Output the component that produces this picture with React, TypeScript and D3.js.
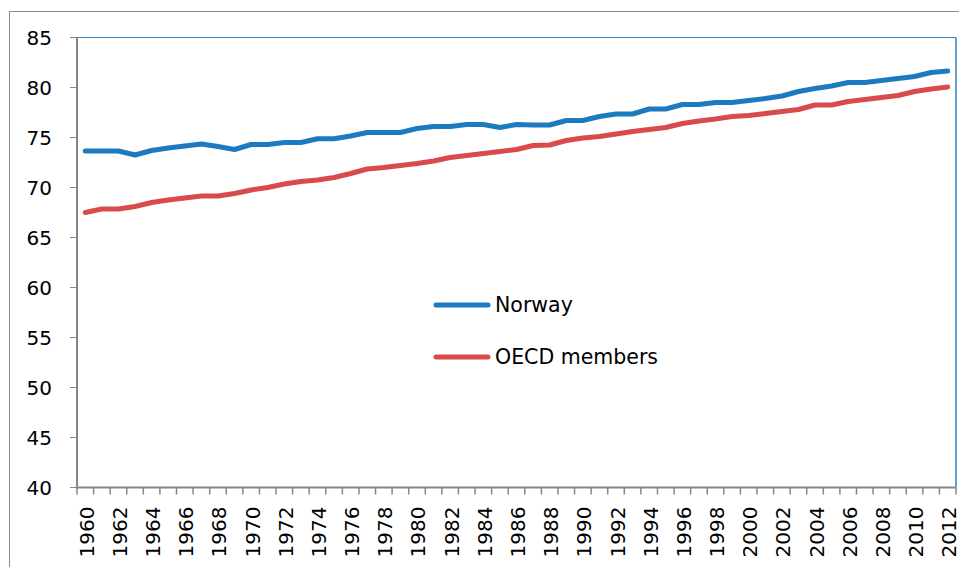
import React from "react";
import * as d3 from "d3";

const years: number[] = [
  1960, 1961, 1962, 1963, 1964, 1965, 1966, 1967, 1968, 1969,
  1970, 1971, 1972, 1973, 1974, 1975, 1976, 1977, 1978, 1979,
  1980, 1981, 1982, 1983, 1984, 1985, 1986, 1987, 1988, 1989,
  1990, 1991, 1992, 1993, 1994, 1995, 1996, 1997, 1998, 1999,
  2000, 2001, 2002, 2003, 2004, 2005, 2006, 2007, 2008, 2009,
  2010, 2011, 2012,
];

const norway: number[] = [
  73.65, 73.65, 73.65, 73.25, 73.7, 73.95, 74.15, 74.35, 74.1, 73.8,
  74.3, 74.3, 74.5, 74.5, 74.88, 74.88, 75.15, 75.5, 75.5, 75.5,
  75.9, 76.1, 76.1, 76.3, 76.3, 76.0, 76.3, 76.25, 76.25, 76.7,
  76.7, 77.1, 77.35, 77.35, 77.85, 77.85, 78.3, 78.3, 78.5, 78.5,
  78.7, 78.9, 79.15, 79.6, 79.9, 80.15, 80.5, 80.5, 80.7, 80.9,
  81.1, 81.5, 81.65,
];

const oecd: number[] = [
  67.5, 67.85, 67.85, 68.1, 68.5, 68.75, 68.95, 69.15, 69.15, 69.4,
  69.75, 70.0, 70.35, 70.6, 70.75, 71.0, 71.4, 71.85, 72.0, 72.2,
  72.4, 72.65, 73.0, 73.2, 73.4, 73.6, 73.8, 74.2, 74.25, 74.7,
  74.95, 75.1, 75.35, 75.6, 75.8, 76.0, 76.4, 76.65, 76.85, 77.1,
  77.2, 77.4, 77.6, 77.8, 78.25, 78.25, 78.6, 78.8, 79.0, 79.2,
  79.6, 79.85, 80.05,
];

const yTicks: number[] = [40, 45, 50, 55, 60, 65, 70, 75, 80, 85];
const xLabelYears: number[] = years.filter((y) => (y - 1960) % 2 === 0);
const seriesNames: string[] = ["Norway", "OECD members"];

const FONT = "'DejaVu Sans', sans-serif";
const BLUE = "#1c7bc0";
const RED = "#d94a4a";
const AXIS = "#868686";

export default function App() {
  const W = 959;
  const H = 567;
  const left = 77;
  const right = 956;
  const top = 37.5;
  const bottom = 487.5;

  const x = d3
    .scaleBand<number>()
    .domain(years)
    .range([left, right])
    .paddingInner(0)
    .paddingOuter(0);
  const y = d3.scaleLinear().domain([40, 85]).range([bottom, top]);
  const cx = (yr: number) => (x(yr) as number) + x.bandwidth() / 2;

  const line = d3
    .line<number>()
    .x((_, i) => cx(years[i]))
    .y((d) => y(d));

  const boundaries = years.map((yr) => x(yr) as number).concat([right]);

  const series = [
    { name: seriesNames[0], values: norway, color: BLUE },
    { name: seriesNames[1], values: oecd, color: RED },
  ];

  return (
    <svg
      width={W}
      height={H}
      style={{ position: "absolute", left: 0, top: 0, background: "#fff" }}
    >
      <rect x={0} y={0} width={W} height={H} fill="#fff" />
      {/* outer chart frame */}
      <rect
        x={9.5}
        y={11.5}
        width={W + 10}
        height={H + 10}
        fill="none"
        stroke="#8a8a8a"
        strokeWidth={1}
      />
      {/* plot area frame (top/right) */}
      <line x1={left} x2={right} y1={top} y2={top} stroke="#2e80c2" strokeWidth={1} />
      <line x1={right} x2={right} y1={top} y2={bottom} stroke="#2e80c2" strokeWidth={1.5} />

      {/* y ticks and labels */}
      {yTicks.map((t) => (
        <g key={"y" + t}>
          <line x1={70} x2={left} y1={y(t)} y2={y(t)} stroke={AXIS} strokeWidth={1} />
          <text
            x={52}
            y={y(t)}
            textAnchor="end"
            dominantBaseline="central"
            fontFamily={FONT}
            fontSize={20}
            fill="#000"
          >
            {t}
          </text>
        </g>
      ))}

      {/* x ticks */}
      {boundaries.map((bx, i) => (
        <line
          key={"xt" + i}
          x1={bx}
          x2={bx}
          y1={bottom}
          y2={bottom + 7}
          stroke={AXIS}
          strokeWidth={1.5}
        />
      ))}
      {/* x labels */}
      {xLabelYears.map((yr) => (
        <text
          key={"xl" + yr}
          transform={`translate(${cx(yr) + 1.5},${bottom + 19}) rotate(-90)`}
          textAnchor="end"
          dominantBaseline="central"
          fontFamily={FONT}
          fontSize={20}
          fill="#000"
        >
          {yr}
        </text>
      ))}

      {/* axes lines */}
      <line x1={left} x2={left} y1={top} y2={bottom + 1} stroke={AXIS} strokeWidth={2} />
      <line x1={left - 1} x2={right} y1={bottom} y2={bottom} stroke={AXIS} strokeWidth={2} />

      {/* series */}
      {series.map((s) => (
        <path
          key={s.name}
          d={line(s.values) as string}
          fill="none"
          stroke={s.color}
          strokeWidth={5}
          strokeLinejoin="round"
          strokeLinecap="round"
        />
      ))}

      {/* legend */}
      {series.map((s, i) => (
        <g key={"lg" + s.name} transform={`translate(0,${305 + i * 52})`}>
          <line x1={436} x2={488} y1={0} y2={0} stroke={s.color} strokeWidth={5} strokeLinecap="round" />
          <text
            x={495}
            y={0}
            dominantBaseline="central"
            fontFamily={FONT}
            fontSize={20.5}
            fill="#000"
          >
            {s.name}
          </text>
        </g>
      ))}
    </svg>
  );
}
